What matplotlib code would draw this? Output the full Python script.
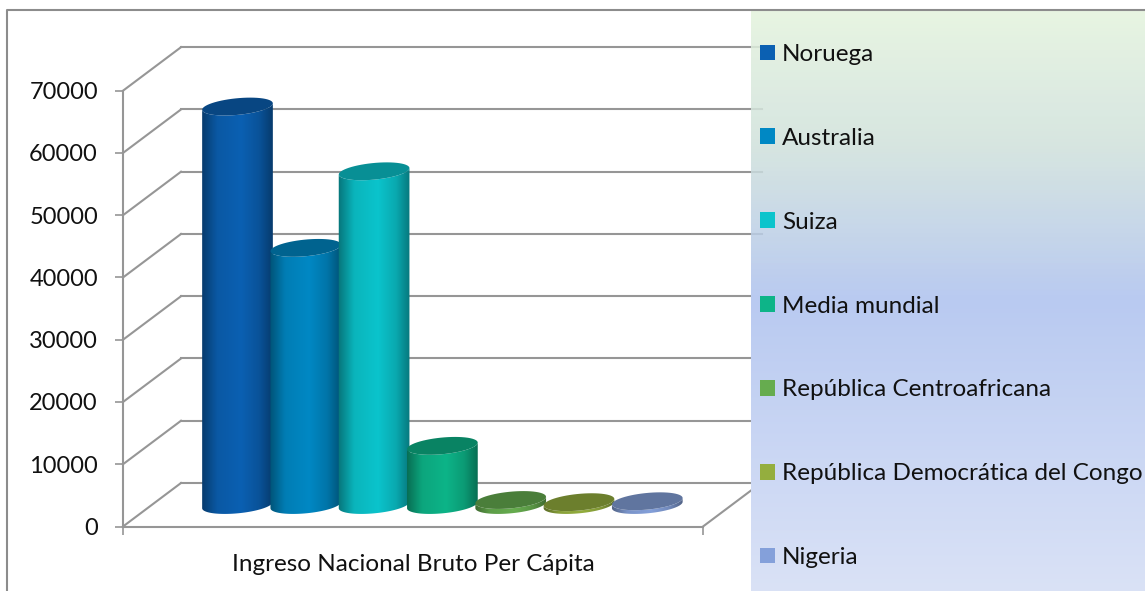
"""Ingreso Nacional Bruto Per Capita: 3D-looking cylinder chart, drawn on a plain 2D axes."""
import numpy as np
import matplotlib
matplotlib.use("Agg")
import matplotlib.pyplot as plt
from matplotlib.colors import to_rgb
from matplotlib.lines import Line2D
from matplotlib.patches import Patch, Polygon

plt.rcParams["font.family"] = ["Lato", "DejaVu Sans"]

COUNTRIES = ["Noruega", "Australia", "Suiza", "Media mundial",
             "República Centroafricana", "República Democrática del Congo", "Nigeria"]
VALUES = [64000, 41300, 53600, 9500, 800, 450, 600]
COLORS = ["#0B60B2", "#0088C4", "#0BC4CC", "#0DB488", "#66AC4F", "#94AE3E", "#84A0DA"]
YTICKS = [0, 10000, 20000, 30000, 40000, 50000, 60000, 70000]
XLABEL = "Ingreso Nacional Bruto Per Cápita"

W, H = 1145, 591
GREY = "#969696"
TEXT = "#111111"
X0, X1 = 123, 703        # front floor edge, in pixels
Y0, Y70 = 526.5, 90.7    # pixel rows of 0 and 70000
PER_PX = 70000 / (Y0 - Y70)
DEPTH_X, DEPTH_Y = 58, 43.5
WALL_END = 762
A, B, TILT = 35.5, 8.3, np.radians(5.5)
BASE_LIFT = 21.5
FONT = 17.5
TICK_FONT = 17


def v_of_row(row):
    """Value axis coordinate of a pixel row."""
    return (Y0 - row) * PER_PX


def arc(cx, val, t0, t1):
    t = np.linspace(t0, t1, 60)
    x = cx + A * np.cos(t) * np.cos(TILT) - B * np.sin(t) * np.sin(TILT)
    y = val + (A * np.cos(t) * np.sin(TILT) + B * np.sin(t) * np.cos(TILT)) * PER_PX
    return np.column_stack([x, y])


def shade(color, factors):
    return np.clip(np.outer(factors, to_rgb(color)), 0, 1)[np.newaxis, :, :]


fig = plt.figure(figsize=(W / 100, H / 100), dpi=100)
ax = fig.add_axes([X0 / W, 1 - Y0 / H, (X1 - X0) / W, (Y0 - Y70) / H])
ax.patch.set_alpha(0)

# back wall, side wall and floor
for val in YTICKS:
    ax.add_line(Line2D([X0, X0 + DEPTH_X], [val, val + DEPTH_Y * PER_PX],
                       color=GREY, lw=1.5, clip_on=False, zorder=1))
    ax.add_line(Line2D([X0 + DEPTH_X, WALL_END], [val + DEPTH_Y * PER_PX] * 2,
                       color=GREY, lw=1.5, clip_on=False, zorder=1))
ax.add_line(Line2D([X1, X1 + DEPTH_X], [0, DEPTH_Y * PER_PX],
                   color=GREY, lw=1.5, clip_on=False, zorder=1))

# cylinders
u = np.linspace(0, 1, 80)
body = np.interp(u, [0, 0.22, 0.55, 0.8, 1], [0.6, 0.92, 1.0, 0.86, 0.6])
base = BASE_LIFT * PER_PX
t0 = np.arctan2(-B * np.sin(TILT), A * np.cos(TILT))
for i, (val, col) in enumerate(zip(VALUES, COLORS)):
    cx = 237.5 + i * 68.3
    top = base + val
    outline = np.vstack([arc(cx, base, t0 + np.pi, t0 + 2 * np.pi),
                         arc(cx, top, t0 + 2 * np.pi, t0 + np.pi)])
    patch = Polygon(outline, closed=True, facecolor="none", edgecolor="none", zorder=2 + i)
    ax.add_patch(patch)
    im = ax.imshow(shade(col, body), extent=(cx - A - 1, cx + A + 1, 0, top + 12 * PER_PX),
                   aspect="auto", zorder=2 + i, interpolation="bilinear")
    im.set_clip_path(patch)
    cap = arc(cx, top, 0, 2 * np.pi)
    ax.add_patch(Polygon(cap, closed=True, facecolor=np.array(to_rgb(col)) * 0.73,
                         edgecolor="none", zorder=2 + i))

# legend panel over the right hand side, see-through only near the top.
# The colours are corrected so the result over white stays the same gradient.
rows = np.arange(11, H)
stops = [11, 150, 300, H]
panel = np.ones((len(rows), 1, 4))
alpha = np.interp(rows, [240, 285], [0.85, 1.0])
for c, chan in enumerate(zip(to_rgb("#E8F5E2"), to_rgb("#D6E5E1"),
                             to_rgb("#B9CAF1"), to_rgb("#DAE2F6"))):
    panel[:, 0, c] = (np.interp(rows, stops, chan) - (1 - alpha)) / alpha
panel[:, 0, 3] = alpha
ax.imshow(np.clip(panel, 0, 1), extent=(751, W, v_of_row(H), v_of_row(11)), aspect="auto",
          zorder=20, clip_on=False)

ax.set_xlim(X0, X1)
ax.set_ylim(0, 70000)

for side in ("top", "right"):
    ax.spines[side].set_visible(False)
for side in ("left", "bottom"):
    ax.spines[side].set_color(GREY)
    ax.spines[side].set_linewidth(1.5)
ax.set_yticks(YTICKS)
ax.set_yticklabels([str(t) for t in YTICKS], fontsize=TICK_FONT, color=TEXT)
ax.tick_params(axis="y", length=6, width=1.2, color=GREY, pad=12)
ax.set_xticks([X0, X1])
ax.set_xticklabels(["", ""])
ax.tick_params(axis="x", length=6, width=1.2, color=GREY)
ax.set_xlabel(XLABEL, fontsize=FONT, color=TEXT, labelpad=10)

px = FONT * 100 / 72
handles = [Patch(facecolor=c, edgecolor="none") for c in COLORS]
leg = ax.legend(handles, COUNTRIES, loc="upper left", frameon=False,
                bbox_to_anchor=(760 / W, 1 - 44 / H), bbox_transform=fig.transFigure,
                fontsize=FONT, labelcolor=TEXT, borderpad=0, borderaxespad=0,
                handlelength=15 / px, handleheight=15 / px, handletextpad=7 / px,
                labelspacing=2.586)
leg.set_zorder(30)

# outer chart frame, top and left only are inside the crop
fig.add_artist(Line2D([6.5 / W, 6.5 / W, 1], [0, 1 - 10 / H, 1 - 10 / H],
                      color="#8C8C8C", lw=1.5))

fig.savefig("out.png", dpi=100)
